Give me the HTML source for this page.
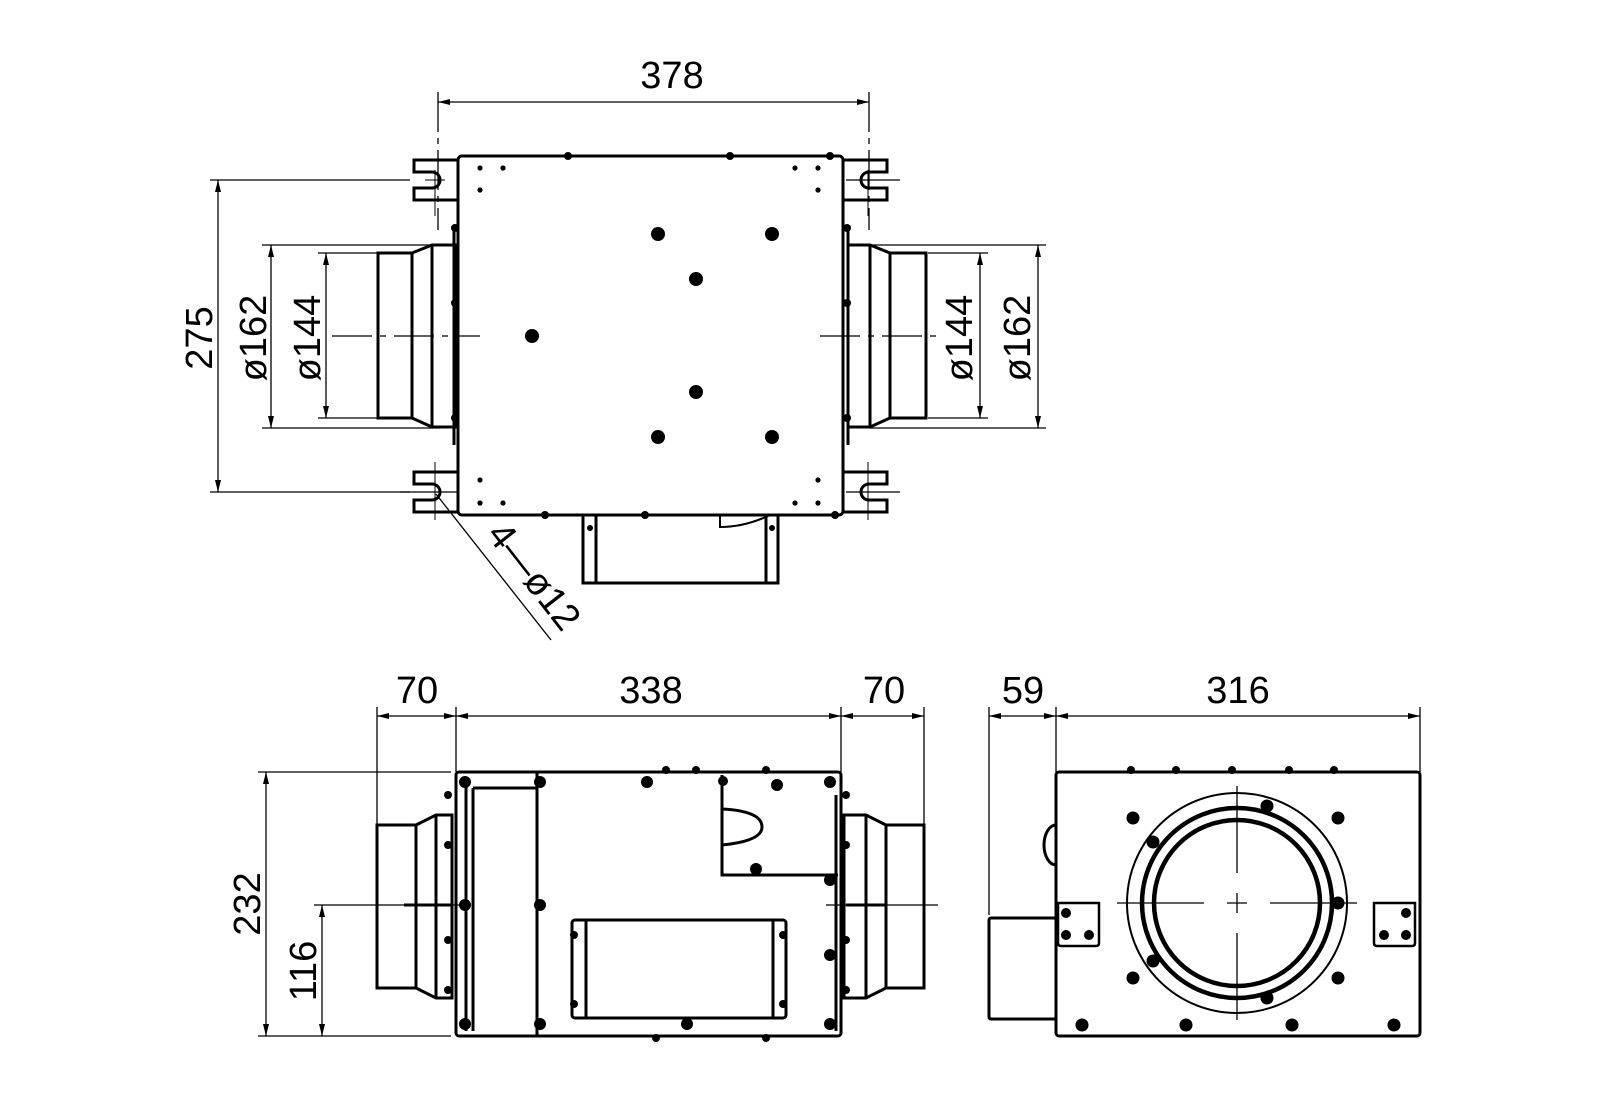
<!DOCTYPE html>
<html><head><meta charset="utf-8"><style>
html,body{margin:0;padding:0;background:#fff;}
svg{display:block;}
text{font-family:"Liberation Sans",sans-serif;font-size:38px;fill:#000;}
</style></head><body>
<svg width="1600" height="1100" viewBox="0 0 1600 1100" xmlns="http://www.w3.org/2000/svg">
<defs>
<marker id="a" viewBox="0 0 12 6" refX="12" refY="3" markerWidth="12" markerHeight="6" orient="auto-start-reverse" markerUnits="userSpaceOnUse">
<path d="M0,0 L12,3 L0,6 z" fill="#000"/></marker>
</defs>
<g fill="none" stroke="#000" stroke-width="1.3">
<line x1="438" y1="92" x2="438" y2="230" stroke-dasharray="40,6,6,6"/>
<line x1="869" y1="92" x2="869" y2="230" stroke-dasharray="40,6,6,6"/>
<line x1="438" y1="102" x2="869" y2="102" marker-start="url(#a)" marker-end="url(#a)"/>
<line x1="210" y1="180" x2="410" y2="180"/>
<line x1="210" y1="492" x2="410" y2="492"/>
<line x1="218" y1="180" x2="218" y2="492" marker-start="url(#a)" marker-end="url(#a)"/>
<line x1="262" y1="245" x2="440" y2="245"/>
<line x1="262" y1="428" x2="440" y2="428"/>
<line x1="271" y1="245" x2="271" y2="428" marker-start="url(#a)" marker-end="url(#a)"/>
<line x1="318" y1="253" x2="378" y2="253"/>
<line x1="318" y1="418" x2="378" y2="418"/>
<line x1="326" y1="253" x2="326" y2="418" marker-start="url(#a)" marker-end="url(#a)"/>
<line x1="870" y1="245" x2="1046" y2="245"/>
<line x1="870" y1="428" x2="1046" y2="428"/>
<line x1="1038" y1="245" x2="1038" y2="428" marker-start="url(#a)" marker-end="url(#a)"/>
<line x1="928" y1="253" x2="988" y2="253"/>
<line x1="928" y1="418" x2="988" y2="418"/>
<line x1="980" y1="253" x2="980" y2="418" marker-start="url(#a)" marker-end="url(#a)"/>
<line x1="332" y1="336" x2="480" y2="336" stroke-dasharray="40,8,6,8"/>
<line x1="820" y1="336" x2="942" y2="336" stroke-dasharray="40,8,6,8"/>
<line x1="400" y1="492" x2="458" y2="492"/>
<line x1="846" y1="492" x2="900" y2="492"/>
<line x1="846" y1="180" x2="900" y2="180"/>
<line x1="436" y1="494" x2="551" y2="640"/>
</g>
<g fill="none" stroke="#000" stroke-width="3">
<rect x="458" y="156" width="385" height="359" rx="4"/>
<path d="M458,160 H414 V172 H432 A8,8 0 0 1 432,188 H414 V200 H458"/>
<path d="M458,472 H414 V484 H432 A8,8 0 0 1 432,500 H414 V512 H458"/>
<path d="M843,160 H887 V172 H869 A8,8 0 0 0 869,188 H887 V200 H843"/>
<path d="M843,472 H887 V484 H869 A8,8 0 0 0 869,500 H887 V512 H843"/>
<path d="M412,253 H378 V418 H412 Z"/>
<path d="M412,253 L432,245 H455 V427 H432 L412,418"/>
<line x1="432" y1="245" x2="432" y2="427"/>
<line x1="454" y1="230" x2="454" y2="445"/>
<path d="M890,253 H926 V418 H890 Z"/>
<path d="M890,253 L870,245 H848 V427 H870 L890,418"/>
<line x1="870" y1="245" x2="870" y2="427"/>
<line x1="848" y1="230" x2="848" y2="445"/>
<path d="M583,515 V583 H778 V515"/>
<line x1="596" y1="515" x2="596" y2="583"/>
<line x1="766" y1="515" x2="766" y2="583"/>
<path d="M720,515 V527 Q745,527 770,515" stroke-width="2"/>
</g>
<g stroke="#000" stroke-width="1" fill="none">
<line x1="435" y1="170" x2="435" y2="216"/><line x1="425" y1="180" x2="445" y2="180"/>
<line x1="435" y1="462" x2="435" y2="520"/>
<line x1="868" y1="170" x2="868" y2="216"/>
<line x1="868" y1="462" x2="868" y2="520"/>
</g>
<g fill="#000">
<circle cx="658" cy="234" r="7"/><circle cx="772" cy="234" r="7"/>
<circle cx="696" cy="279" r="7"/><circle cx="532" cy="336" r="7"/>
<circle cx="696" cy="392" r="7"/><circle cx="658" cy="437" r="7"/><circle cx="772" cy="437" r="7"/>
<circle cx="480" cy="168" r="2.6"/><circle cx="503" cy="168" r="2.6"/><circle cx="480" cy="190" r="2.6"/>
<circle cx="795" cy="168" r="2.6"/><circle cx="818" cy="168" r="2.6"/><circle cx="818" cy="190" r="2.6"/>
<circle cx="480" cy="480" r="2.6"/><circle cx="480" cy="503" r="2.6"/><circle cx="503" cy="503" r="2.6"/>
<circle cx="818" cy="480" r="2.6"/><circle cx="795" cy="503" r="2.6"/><circle cx="818" cy="503" r="2.6"/>
<circle cx="568" cy="156" r="4"/><circle cx="730" cy="156" r="4"/><circle cx="830" cy="156" r="4"/>
<circle cx="455" cy="228" r="4"/><circle cx="455" cy="303" r="4"/><circle cx="455" cy="418" r="4"/>
<circle cx="847" cy="228" r="4"/><circle cx="847" cy="303" r="4"/><circle cx="847" cy="418" r="4"/>
<circle cx="545" cy="515" r="4"/><circle cx="645" cy="515" r="4"/><circle cx="835" cy="515" r="4"/>
<circle cx="590" cy="528" r="3"/><circle cx="772" cy="528" r="3"/>
</g>
<text x="672" y="88" text-anchor="middle">378</text>
<text transform="translate(212,338) rotate(-90)" text-anchor="middle">275</text>
<text transform="translate(266,338) rotate(-90)" text-anchor="middle">ø162</text>
<text transform="translate(320,338) rotate(-90)" text-anchor="middle">ø144</text>
<text transform="translate(972,338) rotate(-90)" text-anchor="middle">ø144</text>
<text transform="translate(1030,338) rotate(-90)" text-anchor="middle">ø162</text>
<text transform="translate(524,584) rotate(52)" text-anchor="middle">4—ø12</text>

<g transform="translate(-4,-5)">
<g fill="none" stroke="#000" stroke-width="1.3">
<line x1="381" y1="712" x2="381" y2="830"/>
<line x1="460" y1="712" x2="460" y2="777"/>
<line x1="845" y1="712" x2="845" y2="777"/>
<line x1="928" y1="712" x2="928" y2="830"/>
<line x1="381" y1="721" x2="460" y2="721" marker-start="url(#a)" marker-end="url(#a)"/>
<line x1="460" y1="721" x2="845" y2="721" marker-start="url(#a)" marker-end="url(#a)"/>
<line x1="845" y1="721" x2="928" y2="721" marker-start="url(#a)" marker-end="url(#a)"/>
<line x1="262" y1="777" x2="455" y2="777"/>
<line x1="262" y1="1041" x2="455" y2="1041"/>
<line x1="270" y1="777" x2="270" y2="1041" marker-start="url(#a)" marker-end="url(#a)"/>
<line x1="318" y1="910" x2="470" y2="910"/>
<line x1="326" y1="910" x2="326" y2="1041" marker-start="url(#a)" marker-end="url(#a)"/>
<line x1="830" y1="910" x2="942" y2="910"/>
</g>
<g fill="none" stroke="#000" stroke-width="3">
<rect x="460" y="777" width="385" height="264" rx="3"/>
<line x1="470" y1="782" x2="470" y2="1036"/>
<line x1="477" y1="793" x2="477" y2="1036"/>
<line x1="477" y1="793" x2="540" y2="793"/>
<line x1="541" y1="777" x2="541" y2="1041"/>
<path d="M842,880 H726 V780"/>
<path d="M726,814 Q766,816 766,832 Q766,846 726,850"/>
<rect x="576" y="925" width="214" height="98" rx="3"/>
<line x1="590" y1="925" x2="590" y2="1023"/>
<line x1="777" y1="925" x2="777" y2="1023"/>
<line x1="840" y1="800" x2="840" y2="1036"/>
<path d="M420,830 H381 V993 H420 Z"/>
<path d="M420,830 L440,820 H456 V1003 H440 L420,993"/>
<line x1="440" y1="820" x2="440" y2="1003"/>
<path d="M890,830 H928 V993 H890 Z"/>
<path d="M890,830 L870,820 H848 V1003 H870 L890,993"/>
<line x1="870" y1="820" x2="870" y2="1003"/>
<line x1="408" y1="910" x2="455" y2="910"/>
<line x1="850" y1="910" x2="890" y2="910"/>
</g>
<g fill="#000">
<circle cx="469" cy="787" r="6"/><circle cx="544" cy="787" r="6"/><circle cx="651" cy="787" r="6"/>
<circle cx="727" cy="786" r="5"/><circle cx="781" cy="790" r="6"/><circle cx="834" cy="787" r="6"/>
<circle cx="760" cy="874" r="6"/><circle cx="834" cy="885" r="6"/>
<circle cx="469" cy="910" r="6"/><circle cx="544" cy="910" r="6"/>
<circle cx="834" cy="960" r="6"/>
<circle cx="469" cy="1029" r="6"/><circle cx="544" cy="1029" r="6"/><circle cx="691" cy="1029" r="6"/><circle cx="834" cy="1029" r="6"/>
<circle cx="578" cy="940" r="4"/><circle cx="578" cy="1009" r="4"/><circle cx="787" cy="940" r="4"/><circle cx="787" cy="1009" r="4"/>
<circle cx="452" cy="800" r="4"/><circle cx="452" cy="850" r="4"/><circle cx="452" cy="945" r="4"/><circle cx="452" cy="995" r="4"/>
<circle cx="850" cy="800" r="4"/><circle cx="850" cy="850" r="4"/><circle cx="850" cy="945" r="4"/><circle cx="850" cy="995" r="4"/>
<circle cx="670" cy="775" r="4"/><circle cx="700" cy="775" r="4"/><circle cx="770" cy="775" r="4"/>
<circle cx="660" cy="1043" r="4"/><circle cx="770" cy="1043" r="4"/>
</g>
<text x="421" y="708" text-anchor="middle">70</text>
<text x="655" y="708" text-anchor="middle">338</text>
<text x="888" y="708" text-anchor="middle">70</text>
<text transform="translate(264,909) rotate(-90)" text-anchor="middle">232</text>
<text transform="translate(320,976) rotate(-90)" text-anchor="middle">116</text>
</g>

<g transform="translate(-6,-5)">
<g fill="none" stroke="#000" stroke-width="1.3">
<line x1="995" y1="712" x2="995" y2="920"/>
<line x1="1062" y1="712" x2="1062" y2="777"/>
<line x1="1426" y1="712" x2="1426" y2="777"/>
<line x1="995" y1="721" x2="1062" y2="721" marker-start="url(#a)" marker-end="url(#a)"/>
<line x1="1062" y1="721" x2="1426" y2="721" marker-start="url(#a)" marker-end="url(#a)"/>
<circle cx="1243" cy="908" r="110" stroke-width="2"/>
<line x1="1243" y1="791" x2="1243" y2="878"/>
<line x1="1243" y1="898" x2="1243" y2="918"/>
<line x1="1243" y1="938" x2="1243" y2="1025"/>
<line x1="1123" y1="908" x2="1210" y2="908"/>
<line x1="1233" y1="908" x2="1253" y2="908"/>
<line x1="1276" y1="908" x2="1363" y2="908"/>
</g>
<g fill="none" stroke="#000" stroke-width="3">
<rect x="1062" y="777" width="364" height="264" rx="3"/>
<rect x="995" y="923" width="67" height="101" rx="2"/>
<path d="M1062,830 A12,20 0 0 0 1062,870"/>
<circle cx="1243" cy="908" r="95" stroke-width="4.5"/>
<circle cx="1243" cy="908" r="83" stroke-width="4.5"/>
<path d="M1064,908 H1105 V948 Q1105,951 1102,951 H1067 Q1064,951 1064,948 Z" stroke-width="2.5"/>
<path d="M1380,908 H1421 V948 Q1421,951 1418,951 H1383 Q1380,951 1380,948 Z" stroke-width="2.5"/>
</g>
<g fill="#000">
<circle cx="1139" cy="823" r="6.5"/><circle cx="1344" cy="823" r="6.5"/>
<circle cx="1139" cy="983" r="6.5"/><circle cx="1344" cy="983" r="6.5"/>
<circle cx="1088" cy="1030" r="6.5"/><circle cx="1192" cy="1030" r="6.5"/><circle cx="1298" cy="1030" r="6.5"/><circle cx="1400" cy="1030" r="6.5"/>
<circle cx="1273" cy="811" r="6.5"/><circle cx="1159" cy="847" r="6.5"/><circle cx="1344" cy="908" r="6.5"/>
<circle cx="1159" cy="966" r="6.5"/><circle cx="1273" cy="1003" r="6.5"/>
<circle cx="1072" cy="918" r="5"/><circle cx="1072" cy="940" r="5"/><circle cx="1095" cy="940" r="5"/>
<circle cx="1412" cy="918" r="5"/><circle cx="1412" cy="940" r="5"/><circle cx="1390" cy="940" r="5"/>
<circle cx="1137" cy="775" r="4"/><circle cx="1182" cy="775" r="4"/><circle cx="1238" cy="775" r="4"/><circle cx="1295" cy="775" r="4"/><circle cx="1340" cy="775" r="4"/>
</g>
<text x="1029" y="708" text-anchor="middle">59</text>
<text x="1244" y="708" text-anchor="middle">316</text>
</g>
</svg>
</body></html>
